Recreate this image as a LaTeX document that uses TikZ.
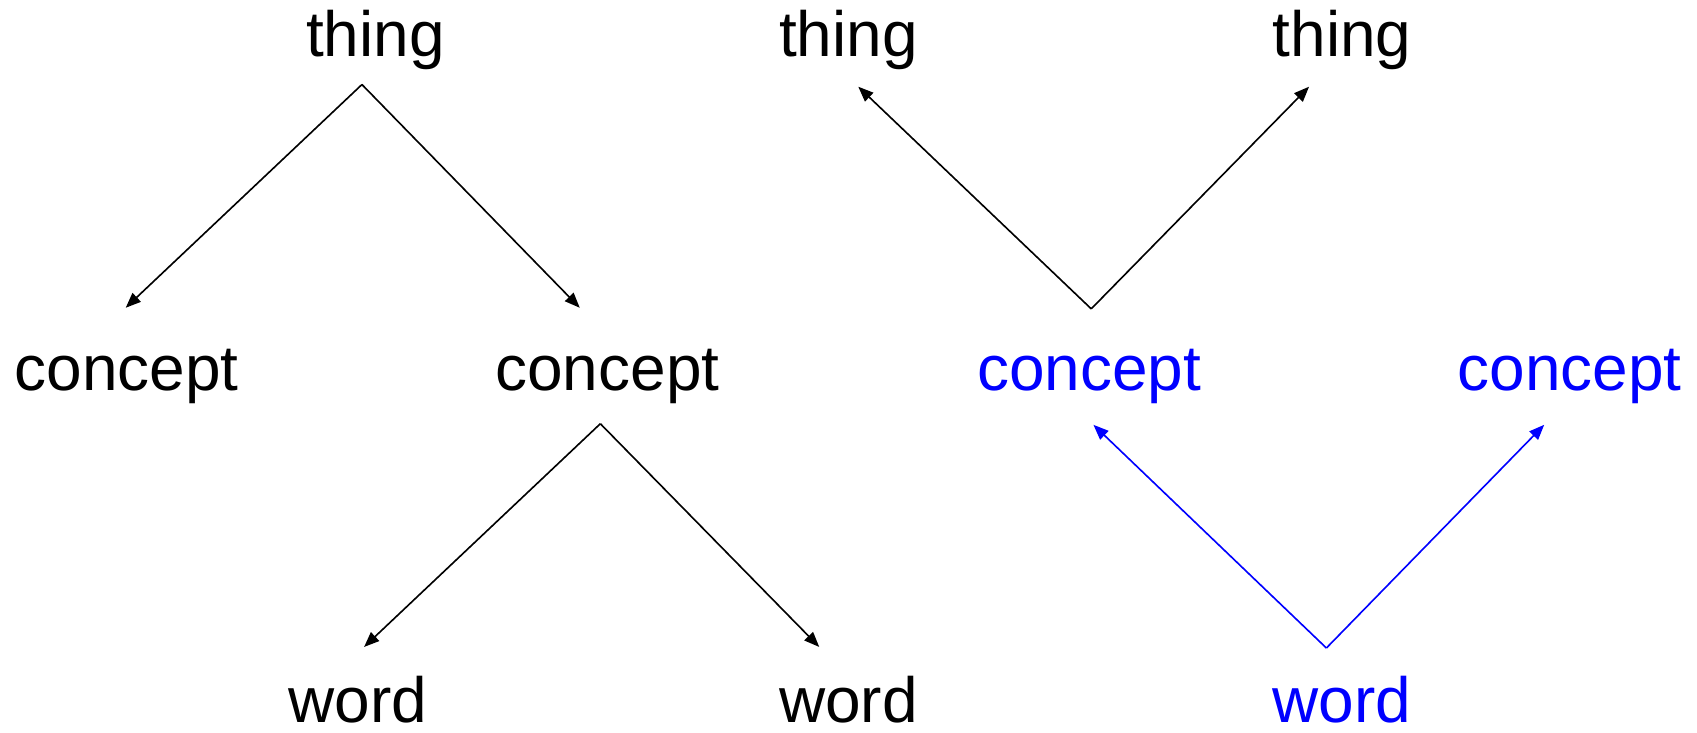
\documentclass[tikz,border=0pt]{standalone}
\usepackage{fontspec}
\setmainfont{Liberation Sans}
\usetikzlibrary{arrows.meta}
\definecolor{pblue}{RGB}{0,0,255}
\begin{document}
\begin{tikzpicture}[x=1pt,y=-1pt,
  lbl/.style={font=\fontsize{59}{70}\selectfont, inner sep=0pt, anchor=base},
  low/.style={text depth=0pt},
  hl/.style={text=pblue},
  conn/.style={line width=1.5pt, -{Triangle[length=14pt,width=11pt]}},
  bconn/.style={conn, draw=pblue}]
\useasboundingbox (0,0) rectangle (1566,675.5);
% labels
\node[lbl] (thingA) at (346.5,52.3) {thing};
\node[lbl] (thingB) at (783,52.3) {thing};
\node[lbl] (thingC) at (1238.5,52.3) {thing};
\node[lbl] (conA) at (117,360.5) {concept};
\node[lbl] (conB) at (560.5,360.5) {concept};
\node[lbl,hl] (conC) at (1005,360.5) {concept};
\node[lbl,hl] (conD) at (1448.5,360.5) {concept};
\node[lbl,low] (wordA) at (330,667) {word};
\node[lbl,low] (wordB) at (783,667) {word};
\node[lbl,low,hl] (wordC) at (1238.5,667) {word};
% connector points
\coordinate (apA) at (334,78);
\coordinate (tA1) at (116,284);
\coordinate (tA2) at (535,284);
\coordinate (apB) at (554,391);
\coordinate (tB1) at (336,597);
\coordinate (tB2) at (756,597);
\coordinate (apC) at (1007,285);
\coordinate (tC1) at (792,80);
\coordinate (tC2) at (1208,80);
\coordinate (apD) at (1224,598);
\coordinate (tD1) at (1009,392);
\coordinate (tD2) at (1425,392);
% connectors
\draw[conn] (apA) -- (tA1);
\draw[conn] (apA) -- (tA2);
\draw[conn] (apB) -- (tB1);
\draw[conn] (apB) -- (tB2);
\draw[conn] (apC) -- (tC1);
\draw[conn] (apC) -- (tC2);
\draw[bconn] (apD) -- (tD1);
\draw[bconn] (apD) -- (tD2);
\end{tikzpicture}
\end{document}
